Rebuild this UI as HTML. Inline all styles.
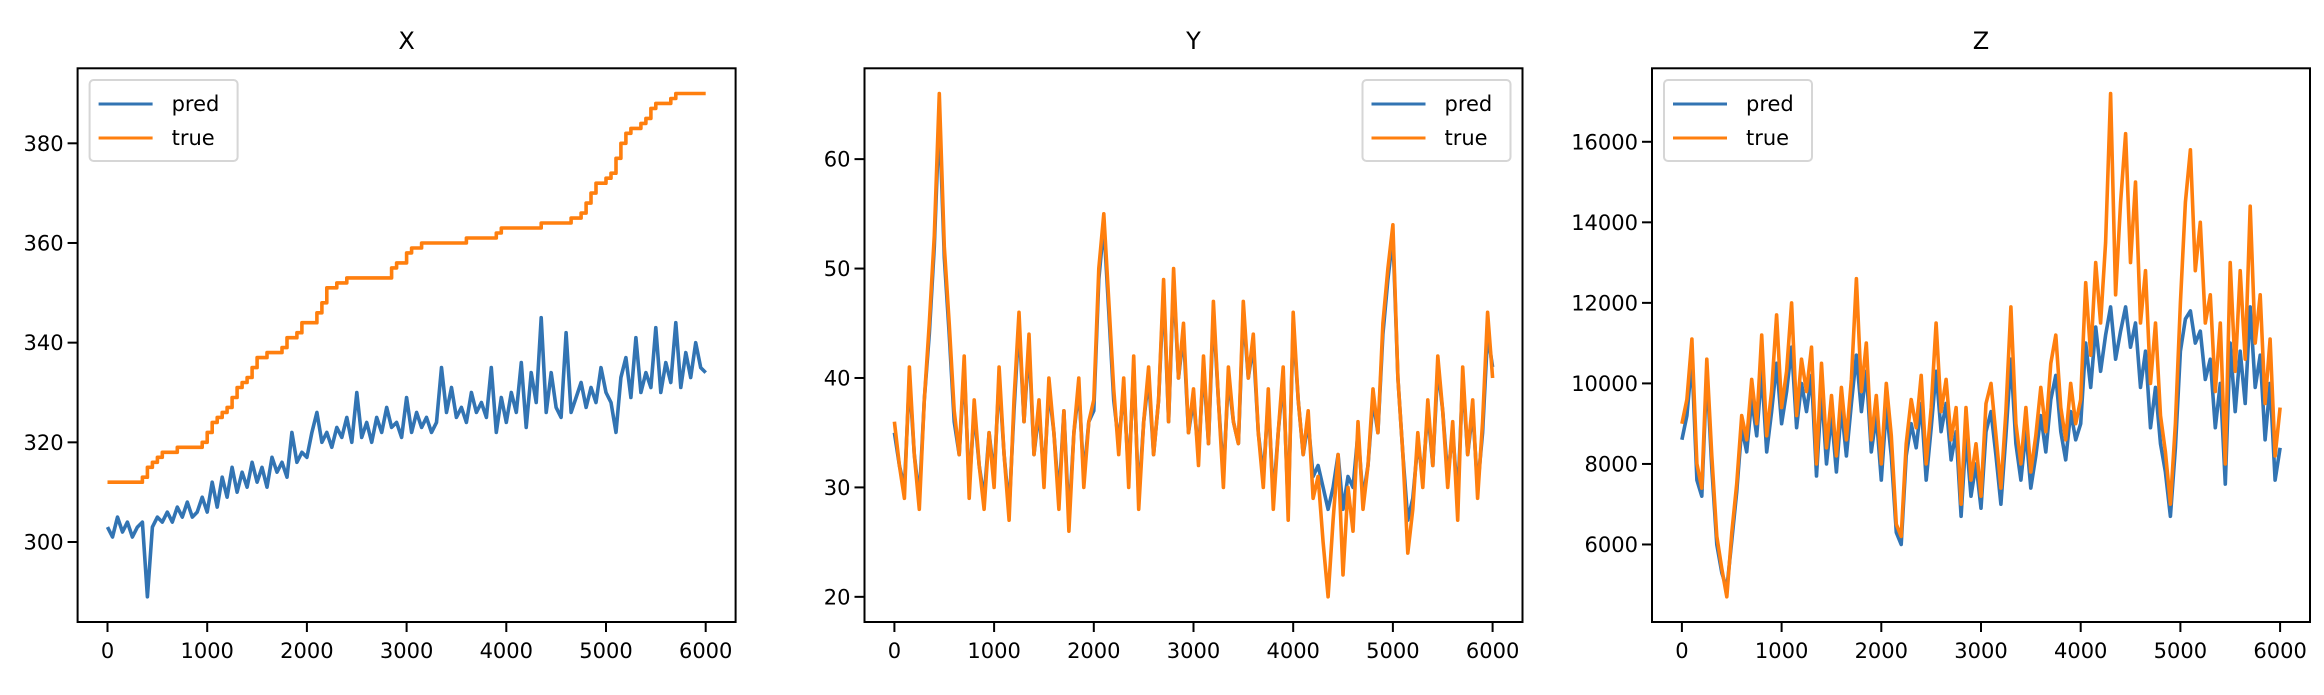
<!DOCTYPE html>
<html><head><meta charset="utf-8"><style>
html,body{margin:0;padding:0;background:#fff;}
svg text{font-family:"DejaVu Sans","Liberation Sans",sans-serif;fill:#000;}
</style></head><body>
<svg id="chart" width="2324" height="690" viewBox="0 0 2324 690" xmlns="http://www.w3.org/2000/svg"></svg>
<script>
const xTickVals = [0,1000,2000,3000,4000,5000,6000];
const xPredX = [303,301,305,302,304,301,303,304,289,303,305,304,306,304,307,305,308,305,306,309,306,312,307,313,309,315,310,314,311,316,312,315,311,317,314,316,313,322,316,318,317,322,326,320,322,319,323,321,325,320,330,321,324,320,325,322,327,323,324,321,329,322,326,323,325,322,324,335,326,331,325,327,324,330,326,328,325,335,322,329,324,330,326,336,323,334,328,345,326,334,327,325,342,326,329,332,327,331,328,335,330,328,322,333,337,329,341,330,334,331,343,330,336,332,344,331,338,333,340,335,334];
const xTrueX = [312,312,312,312,312,312,312,313,315,316,317,318,318,318,319,319,319,319,319,320,322,324,325,326,327,329,331,332,333,335,337,337,338,338,338,339,341,341,342,344,344,344,346,348,351,351,352,352,353,353,353,353,353,353,353,353,353,355,356,356,358,359,359,360,360,360,360,360,360,360,360,360,361,361,361,361,361,361,362,363,363,363,363,363,363,363,363,364,364,364,364,364,364,365,365,366,368,370,372,372,373,374,377,380,382,383,383,384,385,387,388,388,388,389,390,390,390,390,390,390,390];
const yTrueY = [36,32,29,41,33,28,38,45,53,66,52,45,37,33,42,29,38,32,28,35,30,41,33,27,38,46,36,44,33,38,30,40,35,28,37,26,35,40,30,36,38,50,55,47,39,33,40,30,42,28,36,41,33,38,49,36,50,40,45,35,39,32,42,34,47,38,30,41,36,34,47,40,44,35,30,39,28,35,41,27,46,38,33,37,29,31,25,20,27,33,22,30,26,36,28,32,39,35,45,50,54,40,33,24,28,35,30,38,32,42,37,30,36,27,41,33,38,29,36,46,40];
const yPredY = [35,32,30,40,33,29,38,44,52,64,51,44,36,33,41,30,37,32,29,35,31,40,33,28,37,45,36,43,33,37,31,39,35,29,37,27,35,39,31,36,37,49,54,46,38,34,39,31,41,29,36,40,33,38,48,36,49,40,44,35,38,33,41,34,46,38,31,40,36,34,46,40,43,35,31,38,29,35,40,28,45,38,33,36,31,32,30,28,30,33,28,31,30,35,29,32,38,35,44,49,53,40,33,27,29,34,31,37,32,41,37,31,35,29,40,33,37,30,35,44,41];
const zTrueZ = [9000,9600,11100,8000,7400,10600,8200,6200,5400,4700,6300,7500,9200,8600,10100,9000,11200,8700,9800,11700,9400,10300,12000,9200,10600,9800,10900,8000,10500,8400,9700,8200,9900,8600,10100,12600,9800,11000,8600,9700,8000,10000,8700,6500,6200,8500,9600,8900,10200,8000,9400,11500,9300,10100,8600,9400,7000,9400,7600,8500,7200,9500,10000,8700,7400,9300,11900,9000,8000,9400,7800,8700,9900,8800,10500,11200,9400,8600,10000,9000,9600,12500,10700,13000,11500,13500,17200,12200,14500,16200,13000,15000,11500,12800,10000,11500,9200,8300,7000,9000,12000,14500,15800,12800,14000,11500,12200,9800,11500,8000,13000,10300,12800,10600,14400,11000,12200,9500,11100,8200,9400];
const zPredZ = [8600,9200,10600,7600,7200,10300,7900,6000,5300,4900,6100,7300,8900,8300,9600,8700,10300,8300,9300,10500,9000,9800,10900,8900,10000,9300,10200,7700,9800,8000,9200,7800,9400,8200,9500,10700,9300,10300,8300,9200,7600,9400,8200,6300,6000,8200,9000,8400,9500,7600,8900,10300,8800,9500,8100,8800,6700,8700,7200,8000,6900,8800,9300,8200,7000,8700,10600,8500,7600,8800,7400,8200,9200,8300,9600,10200,8800,8100,9300,8600,9000,11000,9900,11400,10300,11200,11900,10600,11300,11900,10900,11500,9900,10800,8900,9900,8500,7800,6700,8400,10800,11600,11800,11000,11300,10100,10600,8900,10000,7500,11000,9300,10800,9500,11900,9900,10700,8600,10000,7600,8400];
const xTicksX = [300,320,340,360,380];
const yTicksY = [20,30,40,50,60];
const zTicksZ = [6000,8000,10000,12000,14000,16000];
const STEP = 50;

const NS = "http://www.w3.org/2000/svg";
const svg = document.getElementById('chart');
function mk(tag, attrs, parent){const e=document.createElementNS(NS,tag);for(const k in attrs)e.setAttribute(k,attrs[k]);(parent||svg).appendChild(e);return e;}

const TOP=68.3, BOT=622, W=658;
const panels = [
 {key:'x', title:'X', left:77.6, pred:xPredX, tru:xTrueX, ticks:xTicksX, legendRight:false, step:true},
 {key:'y', title:'Y', left:864.5, pred:yPredY, tru:yTrueY, ticks:yTicksY, legendRight:true, step:false},
 {key:'z', title:'Z', left:1652, pred:zPredZ, tru:zTrueZ, ticks:zTicksZ, legendRight:false, step:false}
];

panels.forEach(p=>{
  const g = mk('g',{});
  
  
  const n = p.pred.length;
  const xmaxD = (n-1)*STEP;
  const all = p.pred.concat(p.tru);
  const dmin = Math.min(...all), dmax = Math.max(...all);
  const ymin = dmin-(dmax-dmin)*0.05, ymax = dmax+(dmax-dmin)*0.05;
  const xmin = -xmaxD*0.05, xmax = xmaxD*1.05;
  const sx = v => p.left + (v-xmin)/(xmax-xmin)*W;
  const sy = v => BOT - (v-ymin)/(ymax-ymin)*(BOT-TOP);
  function path(arr, step){
    let d='';
    arr.forEach((v,i)=>{
      const X=sx(i*STEP), Y=sy(v);
      if(i===0) d+='M'+X.toFixed(1)+' '+Y.toFixed(1);
      else if(step){ d+=' L'+X.toFixed(1)+' '+sy(arr[i-1]).toFixed(1)+' L'+X.toFixed(1)+' '+Y.toFixed(1); }
      else d+=' L'+X.toFixed(1)+' '+Y.toFixed(1);
    });
    return d;
  }
  const lp = mk('path',{d:path(p.pred,false),fill:'none',stroke:'#3274b3','stroke-width':3.6,'stroke-linejoin':'round'},g);
  
  
  const lt = mk('path',{d:path(p.tru,p.step),fill:'none',stroke:'#ff7f0e','stroke-width':3.6,'stroke-linejoin':'round'},g);
  
  
  const fr = mk('rect',{x:p.left,y:TOP,width:W,height:BOT-TOP,fill:'none',stroke:'#000','stroke-width':2},g);
  
  
  xTickVals.forEach(v=>{
    const X=sx(v);
    mk('line',{x1:X,y1:BOT,x2:X,y2:BOT+10,stroke:'#000','stroke-width':2},g);
    const t=mk('text',{x:X,y:BOT+36,'text-anchor':'middle','font-size':21},g);
    t.textContent=v;
    
    
  });
  p.ticks.forEach(v=>{
    const Y=sy(v);
    mk('line',{x1:p.left-10,y1:Y,x2:p.left,y2:Y,stroke:'#000','stroke-width':2},g);
    const t=mk('text',{x:p.left-14,y:Y+7.5,'text-anchor':'end','font-size':21},g);
    t.textContent=v;
    
    
  });
  const tt = mk('text',{x:p.left+W/2,y:49,'text-anchor':'middle','font-size':24},g);
  tt.textContent=p.title;
  
  
  const lw=148, lx = p.legendRight ? p.left+W-lw-12 : p.left+12, ly=80;
  const lg = mk('g',{},g);
  
  
  mk('rect',{x:lx,y:ly,width:lw,height:81,rx:4,fill:'#fff','fill-opacity':0.8,stroke:'#d6d6d6','stroke-width':2},lg);
  [['pred','#3274b3',104],['true','#ff7f0e',138]].forEach(([lab,col,yy])=>{
    mk('line',{x1:lx+9,y1:yy,x2:lx+63,y2:yy,stroke:col,'stroke-width':3},lg);
    const t=mk('text',{x:lx+82,y:yy+7,'font-size':21},lg);
    t.textContent=lab;
    
    
  });
});
</script>
</body></html>
